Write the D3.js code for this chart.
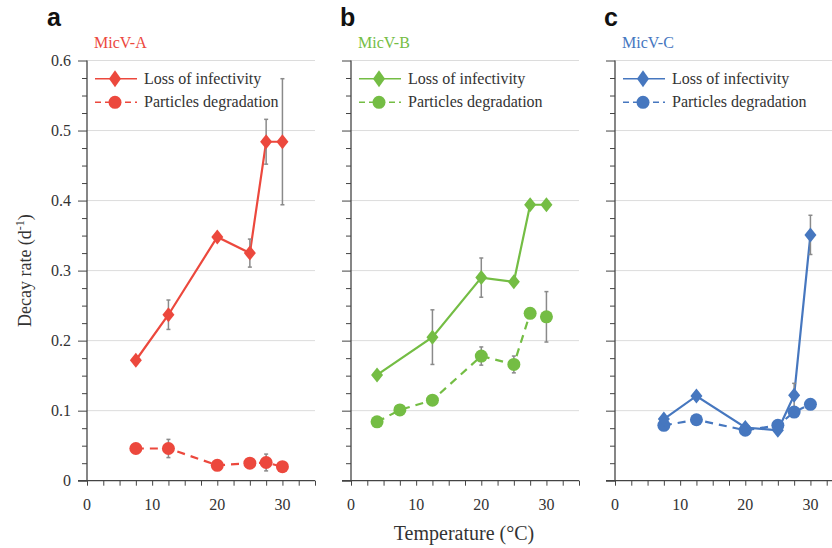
<!DOCTYPE html>
<html>
<head>
<meta charset="utf-8">
<script src="https://cdn.jsdelivr.net/npm/d3@7"></script>
<style>
  body { margin: 0; background: #fff; }
  svg { display: block; }
  text { font-family: "Liberation Serif", "Times New Roman", serif; fill: #333; }
</style>
</head>
<body>
<div id="chart"></div>
<script>
// DATA
const panelLetters = ["a", "b", "c"];
const virusNames = ["MicV-A", "MicV-B", "MicV-C"];
const colors = ["#ec483d", "#74bd44", "#4677bf"];

const lossTemps = [
  [7.5, 12.5, 20, 25, 27.5, 30],
  [4, 12.5, 20, 25, 27.5, 30],
  [7.5, 12.5, 20, 25, 27.5, 30]
];
const lossRate = [
  [0.172, 0.237, 0.348, 0.325, 0.484, 0.484],
  [0.151, 0.205, 0.290, 0.284, 0.394, 0.394],
  [0.088, 0.121, 0.076, 0.072, 0.122, 0.351]
];
const lossErr = [
  [0, 0.021, 0.004, 0.020, 0.032, 0.090],
  [0, 0.039, 0.028, 0, 0.005, 0.005],
  [0, 0.005, 0, 0, 0.017, 0.028]
];

const partTemps = [
  [7.5, 12.5, 20, 25, 27.5, 30],
  [4, 7.5, 12.5, 20, 25, 27.5, 30],
  [7.5, 12.5, 20, 25, 27.5, 30]
];
const partRate = [
  [0.046, 0.046, 0.022, 0.025, 0.026, 0.020],
  [0.084, 0.101, 0.115, 0.178, 0.166, 0.239, 0.234],
  [0.079, 0.087, 0.072, 0.079, 0.098, 0.109]
];
const partErr = [
  [0, 0.013, 0, 0, 0.012, 0],
  [0, 0, 0.006, 0.013, 0.012, 0.007, 0.036],
  [0, 0, 0, 0, 0, 0]
];

const yTicks = [0, 0.1, 0.2, 0.3, 0.4, 0.5, 0.6];
const xTicks = [0, 10, 20, 30];
const legendLabels = ["Loss of infectivity", "Particles degradation"];

// LAYOUT
const width = 832, height = 548;
const panelLeft = [87, 351, 615];
const panelW = 228;
const plotTop = 60.5, plotBottom = 480.7;

const svg = d3.select("#chart").append("svg")
  .attr("width", width)
  .attr("height", height);

const yScale = d3.scaleLinear().domain([0, 0.6]).range([plotBottom, plotTop]);

const diamond = (x, y, h) => `M${x},${y - h}L${x + 6},${y}L${x},${y + h}L${x - 6},${y}Z`;

panelLetters.forEach((letter, i) => {
  const x0 = panelLeft[i];
  const xScale = d3.scaleLinear().domain([0, 35]).range([x0, x0 + panelW]);
  const col = colors[i];
  const g = svg.append("g");

  // gridlines
  g.selectAll(".grid")
    .data(yTicks.filter(d => d > 0))
    .join("line")
    .attr("x1", x0).attr("x2", x0 + panelW)
    .attr("y1", d => yScale(d)).attr("y2", d => yScale(d))
    .attr("stroke", "#dcdcdc").attr("stroke-width", 1);

  // y axis
  const yAxis = d3.axisLeft(yScale)
    .tickValues(d3.range(0, 0.6001, 0.025))
    .tickSize(5)
    .tickFormat("");
  const ya = g.append("g").attr("transform", `translate(${x0},0)`).call(yAxis);
  ya.select(".domain").remove();
  ya.selectAll(".tick line")
    .attr("stroke", "#444")
    .attr("x2", d => (Math.abs(d * 10 - Math.round(d * 10)) < 1e-6 ? -9 : -5));
  g.append("line")
    .attr("x1", x0).attr("x2", x0)
    .attr("y1", plotTop).attr("y2", plotBottom)
    .attr("stroke", "#444").attr("stroke-width", 1.3);

  if (i === 0) {
    g.selectAll(".ylab")
      .data(yTicks)
      .join("text")
      .attr("x", x0 - 16)
      .attr("y", d => yScale(d) + 5.5)
      .attr("text-anchor", "end")
      .attr("font-size", 16)
      .text(d => d === 0 ? "0" : d3.format(".1f")(d));
  }

  // x axis
  const xAxis = d3.axisBottom(xScale)
    .tickValues(d3.range(0, 35.01, 2.5))
    .tickSize(5)
    .tickFormat("");
  const xa = g.append("g").attr("transform", `translate(0,${plotBottom})`).call(xAxis);
  xa.select(".domain").remove();
  xa.selectAll(".tick line").attr("stroke", "#444");
  g.append("line")
    .attr("x1", x0 - 9).attr("x2", x0 + panelW)
    .attr("y1", plotBottom).attr("y2", plotBottom)
    .attr("stroke", "#444").attr("stroke-width", 1.3);
  g.selectAll(".xlab")
    .data(xTicks)
    .join("text")
    .attr("x", d => xScale(d))
    .attr("y", 510)
    .attr("text-anchor", "middle")
    .attr("font-size", 16)
    .text(d => d);

  // panel letter and virus name
  svg.append("text")
    .attr("x", [47, 340, 604][i]).attr("y", 26)
    .style("font-family", "'Liberation Sans', Arial, sans-serif")
    .attr("font-weight", "bold").attr("font-size", 25)
    .style("fill", "#111")
    .text(letter);
  svg.append("text")
    .attr("x", x0 + 7).attr("y", 48)
    .attr("font-size", 16)
    .style("fill", col)
    .text(virusNames[i]);

  const line = d3.line().x(d => xScale(d[0])).y(d => yScale(d[1]));
  const lossPts = lossTemps[i].map((t, j) => [t, lossRate[i][j], lossErr[i][j]]);
  const partPts = partTemps[i].map((t, j) => [t, partRate[i][j], partErr[i][j]]);

  g.append("path").datum(partPts)
    .attr("d", line).attr("fill", "none")
    .attr("stroke", col).attr("stroke-width", 2.2)
    .attr("stroke-dasharray", "8,6");
  g.append("path").datum(lossPts)
    .attr("d", line).attr("fill", "none")
    .attr("stroke", col).attr("stroke-width", 2.2);

  // error bars
  const errs = lossPts.concat(partPts).filter(d => d[2] > 0);
  const eb = g.selectAll(".err").data(errs).join("g").attr("stroke", "#8a8a8a").attr("stroke-width", 1.5);
  eb.append("line")
    .attr("x1", d => xScale(d[0])).attr("x2", d => xScale(d[0]))
    .attr("y1", d => yScale(d[1] + d[2])).attr("y2", d => yScale(d[1] - d[2]));
  eb.append("line")
    .attr("x1", d => xScale(d[0]) - 2).attr("x2", d => xScale(d[0]) + 2)
    .attr("y1", d => yScale(d[1] + d[2])).attr("y2", d => yScale(d[1] + d[2]));
  eb.append("line")
    .attr("x1", d => xScale(d[0]) - 2).attr("x2", d => xScale(d[0]) + 2)
    .attr("y1", d => yScale(d[1] - d[2])).attr("y2", d => yScale(d[1] - d[2]));

  // markers
  g.selectAll(".dot").data(partPts).join("circle")
    .attr("cx", d => xScale(d[0])).attr("cy", d => yScale(d[1]))
    .attr("r", 6.5).attr("fill", col);
  g.selectAll(".dia").data(lossPts).join("path")
    .attr("d", d => diamond(xScale(d[0]), yScale(d[1]), 7.5))
    .attr("fill", col);

  // legend
  const lg = g.append("g").attr("transform", `translate(${x0 + 8},0)`);
  [78.7, 102.3].forEach((ly, k) => {
    lg.append("line")
      .attr("x1", 0).attr("x2", 42).attr("y1", ly).attr("y2", ly)
      .attr("stroke", col).attr("stroke-width", 1.6)
      .attr("stroke-dasharray", k === 1 ? "6,4" : null);
    if (k === 0) {
      lg.append("path").attr("d", diamond(20, ly, 8.5)).attr("fill", col);
    } else {
      lg.append("circle").attr("cx", 20).attr("cy", ly).attr("r", 6.5).attr("fill", col);
    }
    lg.append("text")
      .attr("x", 49).attr("y", ly + 5)
      .attr("font-size", 16)
      .text(legendLabels[k]);
  });
});

// axis titles
const yt = svg.append("text")
  .attr("transform", `translate(31,${(plotTop + plotBottom) / 2}) rotate(-90)`)
  .attr("text-anchor", "middle")
  .attr("font-size", 18);
yt.append("tspan").text("Decay rate (d");
yt.append("tspan").attr("font-size", 12).attr("dy", -7).text("-1");
yt.append("tspan").attr("dy", 7).text(")");

svg.append("text")
  .attr("x", 464).attr("y", 540)
  .attr("text-anchor", "middle")
  .attr("font-size", 20)
  .text("Temperature (°C)");
</script>
</body>
</html>
